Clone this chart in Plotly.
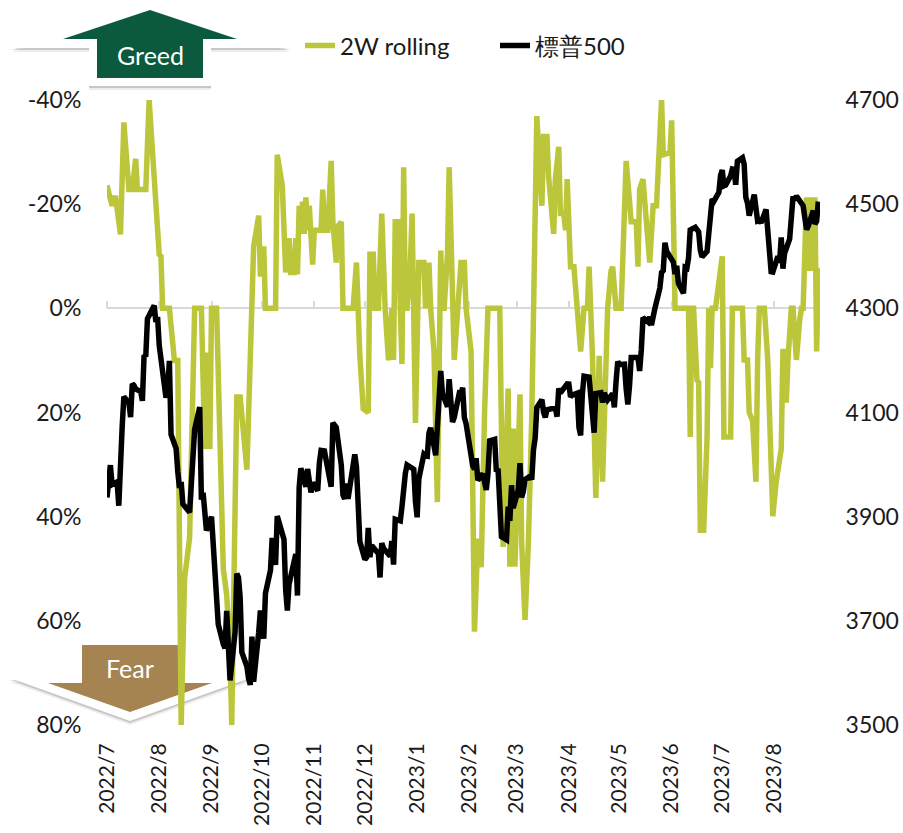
import plotly.graph_objects as go

# ---------------- data ----------------
month_ticks = ["2022-07-19", "2022-08-19", "2022-09-19", "2022-10-19", "2022-11-19", "2022-12-19",
               "2023-01-19", "2023-02-19", "2023-03-19", "2023-04-19", "2023-05-19", "2023-06-19",
               "2023-07-19", "2023-08-19"]
month_labels = ["2022/7", "2022/8", "2022/9", "2022/10", "2022/11", "2022/12", "2023/1", "2023/2",
                "2023/3", "2023/4", "2023/5", "2023/6", "2023/7", "2023/8"]

sp500_dates = [
    "2022-07-19", "2022-07-20", "2022-07-21", "2022-07-22", "2022-07-25", "2022-07-26", "2022-07-27", "2022-07-28", "2022-07-29",
    "2022-08-01", "2022-08-02", "2022-08-03", "2022-08-04", "2022-08-05", "2022-08-08", "2022-08-09", "2022-08-10", "2022-08-11",
    "2022-08-12", "2022-08-15", "2022-08-16", "2022-08-17", "2022-08-18", "2022-08-19", "2022-08-22", "2022-08-23", "2022-08-24",
    "2022-08-25", "2022-08-26", "2022-08-29", "2022-08-30", "2022-08-31",
    "2022-09-01", "2022-09-02", "2022-09-06", "2022-09-07", "2022-09-08", "2022-09-09", "2022-09-12", "2022-09-13", "2022-09-14",
    "2022-09-15", "2022-09-16", "2022-09-19", "2022-09-20", "2022-09-21", "2022-09-22", "2022-09-23", "2022-09-26", "2022-09-27",
    "2022-09-28", "2022-09-29", "2022-09-30",
    "2022-10-03", "2022-10-04", "2022-10-05", "2022-10-06", "2022-10-07", "2022-10-10", "2022-10-11", "2022-10-12", "2022-10-13",
    "2022-10-14", "2022-10-17", "2022-10-18", "2022-10-19", "2022-10-20", "2022-10-21", "2022-10-24", "2022-10-25", "2022-10-26",
    "2022-10-27", "2022-10-28", "2022-10-31",
    "2022-11-01", "2022-11-02", "2022-11-03", "2022-11-04", "2022-11-07", "2022-11-08", "2022-11-09", "2022-11-10", "2022-11-11",
    "2022-11-14", "2022-11-15", "2022-11-16", "2022-11-17", "2022-11-18", "2022-11-21", "2022-11-22", "2022-11-23", "2022-11-25",
    "2022-11-28", "2022-11-29", "2022-11-30",
    "2022-12-01", "2022-12-02", "2022-12-05", "2022-12-06", "2022-12-07", "2022-12-08", "2022-12-09", "2022-12-12", "2022-12-13",
    "2022-12-14", "2022-12-15", "2022-12-16", "2022-12-19", "2022-12-20", "2022-12-21", "2022-12-22", "2022-12-23", "2022-12-27",
    "2022-12-28", "2022-12-29", "2022-12-30",
    "2023-01-03", "2023-01-04", "2023-01-05", "2023-01-06", "2023-01-09", "2023-01-10", "2023-01-11", "2023-01-12", "2023-01-13",
    "2023-01-17", "2023-01-18", "2023-01-19", "2023-01-20", "2023-01-23", "2023-01-24", "2023-01-25", "2023-01-26", "2023-01-27",
    "2023-01-30", "2023-01-31",
    "2023-02-01", "2023-02-02", "2023-02-03", "2023-02-06", "2023-02-07", "2023-02-08", "2023-02-09", "2023-02-10", "2023-02-13",
    "2023-02-14", "2023-02-15", "2023-02-16", "2023-02-17", "2023-02-21", "2023-02-22", "2023-02-23", "2023-02-24", "2023-02-27",
    "2023-02-28",
    "2023-03-01", "2023-03-02", "2023-03-03", "2023-03-06", "2023-03-07", "2023-03-08", "2023-03-09", "2023-03-10", "2023-03-13",
    "2023-03-14", "2023-03-15", "2023-03-16", "2023-03-17", "2023-03-20", "2023-03-21", "2023-03-22", "2023-03-23", "2023-03-24",
    "2023-03-27", "2023-03-28", "2023-03-29", "2023-03-30", "2023-03-31",
    "2023-04-03", "2023-04-04", "2023-04-05", "2023-04-06", "2023-04-10", "2023-04-11", "2023-04-12", "2023-04-13", "2023-04-14",
    "2023-04-17", "2023-04-18", "2023-04-19", "2023-04-20", "2023-04-21", "2023-04-24", "2023-04-25", "2023-04-26", "2023-04-27",
    "2023-04-28",
    "2023-05-01", "2023-05-02", "2023-05-03", "2023-05-04", "2023-05-05", "2023-05-08", "2023-05-09", "2023-05-10", "2023-05-11",
    "2023-05-12", "2023-05-15", "2023-05-16", "2023-05-17", "2023-05-18", "2023-05-19", "2023-05-22", "2023-05-23", "2023-05-24",
    "2023-05-25", "2023-05-26", "2023-05-30", "2023-05-31",
    "2023-06-01", "2023-06-02", "2023-06-05", "2023-06-06", "2023-06-07", "2023-06-08", "2023-06-09", "2023-06-12", "2023-06-13",
    "2023-06-14", "2023-06-15", "2023-06-16", "2023-06-20", "2023-06-21", "2023-06-22", "2023-06-23", "2023-06-26", "2023-06-27",
    "2023-06-28", "2023-06-29", "2023-06-30",
    "2023-07-03", "2023-07-05", "2023-07-06", "2023-07-07", "2023-07-10", "2023-07-11", "2023-07-12", "2023-07-13", "2023-07-14",
    "2023-07-17", "2023-07-18", "2023-07-19", "2023-07-20", "2023-07-21", "2023-07-24", "2023-07-25", "2023-07-26", "2023-07-27",
    "2023-07-28", "2023-07-31",
    "2023-08-01", "2023-08-02", "2023-08-03", "2023-08-04", "2023-08-07", "2023-08-08", "2023-08-09", "2023-08-10", "2023-08-11",
    "2023-08-14", "2023-08-15", "2023-08-16", "2023-08-17", "2023-08-18", "2023-08-21", "2023-08-22", "2023-08-23", "2023-08-24",
    "2023-08-25", "2023-08-28", "2023-08-29", "2023-08-30", "2023-08-31",
    "2023-09-01", "2023-09-05", "2023-09-06", "2023-09-07", "2023-09-08", "2023-09-11", "2023-09-12", "2023-09-13", "2023-09-14",
]
sp500_close = [
    3936.69, 3959.90, 3998.95, 3961.63, 3966.84, 3921.05, 4023.61, 4072.43, 4130.29,
    4118.63, 4091.19, 4155.17, 4151.94, 4145.19, 4140.06, 4122.47, 4210.24, 4207.27,
    4280.15, 4297.14, 4305.20, 4274.04, 4283.74, 4228.48, 4137.99, 4128.73, 4140.77,
    4199.12, 4057.66, 4030.61, 3986.16, 3955.00,
    3966.85, 3924.26, 3908.19, 3979.87, 4006.18, 4067.36, 4110.41, 3932.69, 3946.01,
    3901.35, 3873.33, 3899.89, 3855.93, 3789.93, 3757.99, 3693.23, 3655.04, 3647.29,
    3719.04, 3640.47, 3585.62,
    3678.43, 3790.93, 3783.28, 3744.52, 3639.66, 3612.39, 3588.84, 3577.03, 3669.91,
    3583.07, 3677.95, 3719.98, 3695.16, 3665.78, 3752.75, 3797.34, 3859.11, 3830.60,
    3807.30, 3901.06, 3871.98,
    3856.10, 3759.69, 3719.89, 3770.55, 3806.80, 3828.11, 3748.57, 3956.37, 3992.93,
    3957.25, 3991.73, 3958.79, 3946.56, 3965.34, 3949.94, 4003.58, 4027.26, 4026.12,
    3963.94, 3957.63, 4080.11,
    4076.57, 4071.70, 3998.84, 3941.26, 3933.92, 3963.51, 3934.38, 3990.56, 4019.65,
    3995.32, 3895.75, 3852.36, 3817.66, 3821.62, 3878.44, 3822.39, 3844.82, 3829.25,
    3783.22, 3849.28, 3839.50,
    3824.14, 3852.97, 3808.10, 3895.08, 3892.09, 3919.25, 3969.61, 3983.17, 3999.09,
    3990.97, 3928.86, 3898.85, 3972.61, 4019.81, 4016.95, 4016.22, 4060.43, 4070.56,
    4017.77, 4076.60,
    4119.21, 4179.76, 4136.48, 4111.08, 4164.00, 4117.86, 4081.50, 4090.46, 4137.29,
    4136.13, 4147.60, 4090.41, 4079.09, 3997.34, 3991.05, 4012.32, 3970.04, 3982.24,
    3970.15,
    3951.39, 3981.35, 4045.64, 4048.42, 3986.37, 3992.01, 3918.32, 3861.59, 3855.76,
    3919.29, 3891.93, 3960.28, 3916.64, 3951.57, 4002.87, 3936.97, 3948.72, 3970.99,
    3977.53, 3971.27, 4027.81, 4050.83, 4109.31,
    4124.51, 4100.60, 4090.38, 4105.02, 4109.11, 4108.94, 4091.95, 4146.22, 4137.64,
    4151.32, 4154.87, 4154.52, 4129.79, 4133.52, 4137.04, 4071.63, 4055.99, 4135.35,
    4169.48,
    4167.87, 4119.58, 4090.75, 4061.22, 4136.25, 4138.12, 4119.17, 4137.64, 4130.62,
    4124.08, 4136.28, 4109.90, 4158.77, 4198.05, 4191.98, 4192.63, 4145.58, 4115.24,
    4151.28, 4205.45, 4205.52, 4179.83,
    4221.02, 4282.37, 4273.79, 4283.85, 4267.52, 4293.93, 4298.86, 4338.93, 4369.01,
    4372.59, 4425.84, 4409.59, 4388.71, 4365.69, 4381.89, 4348.33, 4328.82, 4378.41,
    4376.86, 4396.44, 4450.38,
    4455.59, 4446.82, 4411.59, 4398.95, 4409.53, 4439.26, 4472.16, 4510.04, 4505.42,
    4522.79, 4554.98, 4565.72, 4534.87, 4536.34, 4554.64, 4567.46, 4566.75, 4537.41,
    4582.23, 4588.96,
    4576.73, 4513.39, 4501.89, 4478.03, 4518.44, 4499.38, 4467.71, 4468.83, 4464.05,
    4489.72, 4437.86, 4404.33, 4370.36, 4369.71, 4399.77, 4387.55, 4436.01, 4376.31,
    4405.71, 4433.31, 4497.63, 4514.87, 4507.66,
    4515.77, 4496.83, 4465.48, 4451.14, 4457.49, 4487.46, 4461.90, 4467.44, 4505.10,
]

rolling_dates = [
    "2022-07-19", "2022-07-22", "2022-07-24", "2022-07-27", "2022-07-29",
    "2022-08-01", "2022-08-03", "2022-08-05", "2022-08-06", "2022-08-11", "2022-08-13",
    "2022-08-19", "2022-08-20", "2022-08-21", "2022-08-25", "2022-08-28", "2022-08-30",
    "2022-09-01", "2022-09-03", "2022-09-06", "2022-09-09", "2022-09-13", "2022-09-15", "2022-09-16",
    "2022-09-17", "2022-09-18", "2022-09-19", "2022-09-22", "2022-09-26", "2022-09-28", "2022-09-30",
    "2022-10-01", "2022-10-04", "2022-10-06", "2022-10-10", "2022-10-14", "2022-10-17", "2022-10-18",
    "2022-10-20", "2022-10-21", "2022-10-27", "2022-10-28", "2022-10-31",
    "2022-11-02", "2022-11-04", "2022-11-05", "2022-11-07", "2022-11-08", "2022-11-09", "2022-11-10",
    "2022-11-11", "2022-11-12", "2022-11-13", "2022-11-14", "2022-11-15", "2022-11-16", "2022-11-18",
    "2022-11-19", "2022-11-23", "2022-11-24", "2022-11-25", "2022-11-27", "2022-11-29", "2022-11-30",
    "2022-12-02", "2022-12-03", "2022-12-05", "2022-12-06", "2022-12-12", "2022-12-14", "2022-12-16",
    "2022-12-18", "2022-12-21", "2022-12-22", "2022-12-24", "2022-12-25", "2022-12-27", "2022-12-29",
    "2022-12-31",
    "2023-01-02", "2023-01-04", "2023-01-05", "2023-01-06", "2023-01-08", "2023-01-09", "2023-01-10",
    "2023-01-11", "2023-01-12", "2023-01-13", "2023-01-15", "2023-01-16", "2023-01-18", "2023-01-20",
    "2023-01-23", "2023-01-24", "2023-01-26", "2023-01-27", "2023-01-29", "2023-01-31",
    "2023-02-02", "2023-02-03", "2023-02-04", "2023-02-06", "2023-02-07", "2023-02-10", "2023-02-12",
    "2023-02-14", "2023-02-16", "2023-02-17", "2023-02-20", "2023-02-22", "2023-02-24", "2023-02-26",
    "2023-02-28",
    "2023-03-02", "2023-03-09", "2023-03-11", "2023-03-14", "2023-03-15", "2023-03-17", "2023-03-18",
    "2023-03-21", "2023-03-22", "2023-03-24", "2023-03-26", "2023-03-28", "2023-03-31",
    "2023-04-03", "2023-04-04", "2023-04-06", "2023-04-07", "2023-04-10", "2023-04-11", "2023-04-13",
    "2023-04-14", "2023-04-16", "2023-04-17", "2023-04-18", "2023-04-20", "2023-04-22", "2023-04-24",
    "2023-04-26", "2023-04-28", "2023-04-30",
    "2023-05-01", "2023-05-03", "2023-05-05", "2023-05-07", "2023-05-09", "2023-05-11", "2023-05-12",
    "2023-05-14", "2023-05-15", "2023-05-17", "2023-05-20", "2023-05-23", "2023-05-26", "2023-05-29",
    "2023-05-30", "2023-05-31",
    "2023-06-02", "2023-06-04", "2023-06-06", "2023-06-08", "2023-06-10", "2023-06-13", "2023-06-14",
    "2023-06-18", "2023-06-19", "2023-06-21", "2023-06-27", "2023-06-29", "2023-06-30",
    "2023-07-01", "2023-07-02", "2023-07-04", "2023-07-05", "2023-07-06", "2023-07-08", "2023-07-10",
    "2023-07-11", "2023-07-12", "2023-07-13", "2023-07-15", "2023-07-19", "2023-07-20", "2023-07-24",
    "2023-07-25", "2023-07-31",
    "2023-08-01", "2023-08-03", "2023-08-04", "2023-08-06", "2023-08-08", "2023-08-09", "2023-08-10",
    "2023-08-13", "2023-08-15", "2023-08-18", "2023-08-20", "2023-08-23", "2023-08-24", "2023-08-25",
    "2023-08-26", "2023-08-27", "2023-08-29", "2023-08-30",
    "2023-09-01", "2023-09-03", "2023-09-04", "2023-09-05", "2023-09-07", "2023-09-08", "2023-09-09",
    "2023-09-11", "2023-09-12", "2023-09-13", "2023-09-14", "2023-09-15",
]
rolling_pct = [
    -23.6, -19.7, -21.6, -14.2, -35.7,
    -22.8, -22.8, -28.7, -22.8, -22.8, -40.0,
    -10.3, -10.0, 0, 0, 10.0, 10.0,
    80.0, 52.0, 44.0, 0, 0, 27.0, 9.0,
    9.0, 27.0, 0, 0, 50.0, 55.0, 66.0,
    80.0, 17.0, 17.0, 31.0, -11.9, -17.8, -6.1,
    -11.9, 0, 0, -29.5, -23.6,
    -6.9, -13.5, -6.9, -6.9, -13.5, -6.5, -19.7,
    -14.3, -20.5, -14.3, -21.3, -15.0, -19.7, -8.4,
    -15.0, -15.0, -22.8, -15.0, -15.0, -28.3, -16.6,
    -8.8, -15.8, -16.6, 0, 0, -8.8, 9.1,
    19.3, 20.0, -10.4, -10.4, 0, 0, -18.2,
    0,
    10.0, 0, 9.9, -16.6, -16.6, 0, 10.7,
    -27.1, 0, 0, -8.8, -18.2, 22.0, -8.8,
    -8.8, 0, -8.8, 0, 8.3, 37.2,
    -11.1, 0, 0, -10.4, -27.1, 9.9, 2.1,
    -8.8, -8.8, 0, 8.3, 62.1, 44.2, 49.7,
    20.0,
    0, 0, 45.8, 15.4, 49.6, 23.1, 49.6,
    16.5, 45.0, 59.8, 45.0, 20.8, -36.9,
    -19.7, -33.0, -33.0, -25.2, -14.3, -24.8, -31.0,
    -18.2, -18.2, -15.0, -24.8, -8.0, -8.0, 0,
    8.3, 0, 0,
    -8.0, 9.1, 36.4, 9.1, 33.3, 9.1, 0,
    -7.2, -8.0, 0, 0, -28.3, -16.6, -16.6,
    -8.0, -22.8,
    -24.8, -16.6, -8.8, -19.7, -19.7, -40.0, -29.5,
    -29.9, -36.1, 0, 0, 0, 24.7,
    0, 0, 13.8, 14.2, 42.6, 42.6, 24.7,
    0, 11.5, 0, 0, -10.0, 24.7, 24.7,
    0, 0,
    9.9, 9.9, 20.0, 21.6, 33.3, 9.9, 0,
    0, 9.9, 39.9, 33.3, 27.0, 8.3, 8.3,
    18.1, 9.9, 0, 0,
    9.9, 2.1, 0, 0, -21.3, -7.2, -21.3,
    -7.2, -21.3, 8.3, -7.2, -7.6,
]

pct_ticks = [-40, -20, 0, 20, 40, 60, 80]
pct_labels = ["-40%", "-20%", "0%", "20%", "40%", "60%", "80%"]
idx_ticks = [3500, 3700, 3900, 4100, 4300, 4500, 4700]

# ---------------- styling / layout ----------------
GREEN_LINE = "#BCC63B"
FONT = "Lato, 'Noto Sans', sans-serif"
W, H = 903, 833
L, R, T, B = 107, 820, 100, 725
x_range = ["2022-07-19", "2023-09-15"]
pct_range = [80, -40]


def px(x):
    return (x - L) / (R - L)


def py(y):
    return (B - y) / (B - T)


def path(points, dx=0, dy=0):
    return "M " + " L ".join(f"{px(x + dx):.5f},{py(y + dy):.5f}" for x, y in points) + " Z"


fig = go.Figure()
fig.add_trace(go.Scatter(x=rolling_dates, y=rolling_pct, name="2W rolling", mode="lines",
                         line=dict(color=GREEN_LINE, width=5.5), xaxis="x", yaxis="y"))
fig.add_trace(go.Scatter(x=sp500_dates, y=sp500_close, name="標普500", mode="lines",
                         line=dict(color="#000000", width=5.5), xaxis="x", yaxis="y2"))
# helper trace so the zero-line tick axis is rendered
fig.add_trace(go.Scatter(x=[x_range[0]], y=[0], mode="lines", line=dict(width=0),
                         showlegend=False, hoverinfo="skip", xaxis="x2", yaxis="y"))

shapes = []
# Greed arrow (up)
greed_outer = [(150, 0), (290, 48), (211, 48), (211, 86), (89, 86), (89, 48), (12, 48)]
greed_inner = [(150, 10), (237, 39), (203, 39), (203, 78), (97, 78), (97, 39), (63, 39)]
# Fear arrow (down)
fear_outer = [(73, 637), (188, 637), (188, 678), (250, 678), (130, 721), (10, 678), (73, 678)]
fear_inner = [(82, 645), (178, 645), (178, 683), (212, 683), (130, 712), (48, 683), (82, 683)]

for outer, inner, col in [(greed_outer, greed_inner, "#0B5A3E"), (fear_outer, fear_inner, "#A58451")]:
    shapes.append(dict(type="path", path=path(outer, 0, 4), xref="paper", yref="paper",
                       fillcolor="rgba(0,0,0,0.07)", line=dict(width=0), layer="below"))
    shapes.append(dict(type="path", path=path(outer, 0, 2), xref="paper", yref="paper",
                       fillcolor="rgba(0,0,0,0.16)", line=dict(width=0), layer="below"))
    shapes.append(dict(type="path", path=path(outer), xref="paper", yref="paper",
                       fillcolor="#FFFFFF", line=dict(width=0), layer="below"))
    shapes.append(dict(type="path", path=path(inner), xref="paper", yref="paper",
                       fillcolor=col, line=dict(width=0), layer="below"))

annotations = [
    dict(text="Greed", x=px(150), y=py(55), xref="paper", yref="paper", showarrow=False,
         font=dict(family=FONT, size=25, color="white"), xanchor="center", yanchor="middle"),
    dict(text="Fear", x=px(130), y=py(668), xref="paper", yref="paper", showarrow=False,
         font=dict(family=FONT, size=25, color="white"), xanchor="center", yanchor="middle"),
]

tick_font = dict(family=FONT, size=23, color="#1a1a1a")
xtick_font = dict(family=FONT, size=21, color="#1a1a1a")

fig.update_layout(
    width=W, height=H,
    margin=dict(l=L, r=W - R, t=T, b=H - B, autoexpand=False),
    paper_bgcolor="white", plot_bgcolor="rgba(0,0,0,0)",
    template="none",
    font=dict(family=FONT, size=23, color="#1a1a1a"),
    showlegend=True,
    legend=dict(orientation="h", x=px(300), y=py(46), xanchor="left", yanchor="middle",
                font=dict(family=FONT, size=24, color="#1a1a1a"), bgcolor="rgba(0,0,0,0)",
                itemwidth=30, traceorder="normal", entrywidth=150, entrywidthmode="pixels"),
    shapes=shapes,
    annotations=annotations,
    xaxis=dict(type="date", range=x_range, tickvals=month_ticks, ticktext=month_labels,
               tickangle=-90, tickfont=xtick_font, ticks="outside", ticklen=9,
               tickcolor="rgba(0,0,0,0)", showgrid=False, showline=False, zeroline=False,
               automargin=False),
    xaxis2=dict(type="date", range=x_range, overlaying="x", anchor="free",
                position=(pct_range[0] - 0) / (pct_range[0] - pct_range[1]), side="top",
                tickvals=month_ticks, showticklabels=False, ticks="outside", ticklen=7,
                tickwidth=2, tickcolor="#D9D9D9", showline=False, showgrid=False,
                zeroline=False, layer="below traces"),
    yaxis=dict(range=pct_range, tickvals=pct_ticks, ticktext=pct_labels, tickfont=tick_font,
               ticks="outside", ticklen=20, tickcolor="rgba(0,0,0,0)", showgrid=False,
               showline=False, zeroline=True, zerolinecolor="#D9D9D9", zerolinewidth=2,
               automargin=False),
    yaxis2=dict(range=[3500, 4700], tickvals=idx_ticks, overlaying="y", side="right",
                tickfont=tick_font, ticks="outside", ticklen=20, tickcolor="rgba(0,0,0,0)",
                showgrid=False, showline=False, zeroline=False, automargin=False),
)

fig.write_html("out.html", config={"displayModeBar": False},
               post_script="document.body.style.margin='0';document.body.style.overflow='hidden';")
